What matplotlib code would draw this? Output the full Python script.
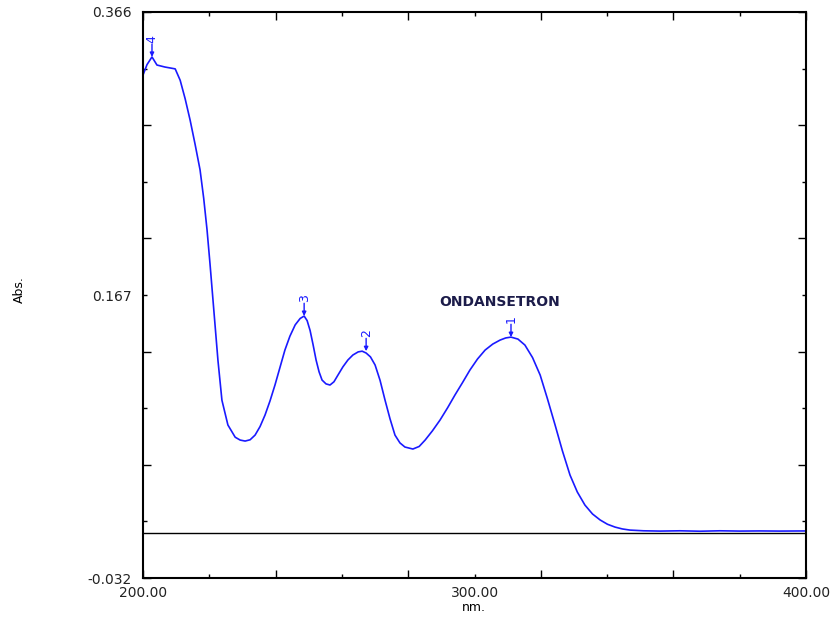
import matplotlib
matplotlib.use("Agg")
import matplotlib.pyplot as plt

# spectrum (wavelength nm, absorbance)
wavelength = [200.0, 201.2, 202.7, 204.2, 206.6, 209.7, 211.2, 212.7, 214.2, 215.7, 217.2,
              218.3, 219.3, 220.2, 221.1, 222.6, 223.8, 225.6, 227.8, 229.3, 230.8, 232.3,
              233.8, 235.3, 236.8, 238.3, 239.8, 241.3, 242.8, 244.3, 245.9, 247.4, 248.6,
              249.5, 250.4, 251.3, 252.2, 253.1, 254.0, 255.2, 256.4, 257.6, 258.8, 260.3,
              261.8, 263.3, 264.9, 266.1, 267.3, 268.6, 270.0, 271.5, 273.0, 274.5, 276.0,
              277.5, 279.0, 281.4, 283.3, 285.1, 287.3, 289.6, 291.9, 294.1, 296.4, 298.6,
              300.9, 303.2, 305.5, 307.7, 309.4, 311.0, 313.1, 315.2, 317.5, 319.8, 322.0,
              324.3, 326.5, 328.8, 331.0, 333.3, 335.6, 337.9, 340.1, 342.4, 344.6, 346.9,
              351.0, 356.0, 362.0, 368.0, 374.0, 380.0, 386.0, 392.0, 400.0]
absorbance = [0.3217, 0.3290, 0.3344, 0.3287, 0.3273, 0.3260, 0.3180, 0.3050, 0.2900, 0.2730, 0.2550,
              0.2350, 0.2130, 0.1890, 0.1635, 0.1210, 0.0930, 0.0756, 0.0670, 0.0650, 0.0643, 0.0652,
              0.0685, 0.0745, 0.0826, 0.0925, 0.1037, 0.1160, 0.1283, 0.1380, 0.1460, 0.1505, 0.1522,
              0.1490, 0.1420, 0.1320, 0.1213, 0.1130, 0.1072, 0.1045, 0.1037, 0.1060, 0.1107, 0.1165,
              0.1213, 0.1248, 0.1270, 0.1275, 0.1262, 0.1235, 0.1178, 0.1070, 0.0931, 0.0800, 0.0685,
              0.0630, 0.0601, 0.0587, 0.0605, 0.0650, 0.0715, 0.0791, 0.0878, 0.0967, 0.1055, 0.1142,
              0.1220, 0.1283, 0.1325, 0.1353, 0.1368, 0.1374, 0.1360, 0.1318, 0.1230, 0.1107, 0.0940,
              0.0756, 0.0575, 0.0404, 0.0285, 0.0193, 0.0130, 0.0088, 0.0058, 0.0038, 0.0025, 0.0017,
              0.0012, 0.0010, 0.0012, 0.0009, 0.0012, 0.0010, 0.0011, 0.0010, 0.0011]

# labelled peaks: number, wavelength, absorbance
peak_ids = ["4", "3", "2", "1"]
peak_x = [202.7, 248.6, 267.3, 311.0]
peak_y = [0.3344, 0.1522, 0.1275, 0.1374]

y_min, y_max = -0.032, 0.366
y_step = (y_max - y_min) / 10

fig = plt.figure(figsize=(8.35, 6.18), dpi=100)
ax = fig.add_axes([0.1713, 0.0647, 0.794, 0.9159])

ax.plot(wavelength, absorbance, color="#1a1aff", linewidth=1.2)
ax.axhline(0.0, color="black", linewidth=1.0)

for pid, px, py in zip(peak_ids, peak_x, peak_y):
    ax.annotate("", xy=(px, py), xytext=(px, py + 0.009),
                arrowprops=dict(arrowstyle="-|>", color="#1a1aff", lw=1.0,
                                mutation_scale=6, shrinkA=0, shrinkB=0))
    ax.text(px, py + 0.010, pid, rotation=90, ha="center", va="bottom",
            color="#1a1aff", fontsize=9)

ax.text(307.7, 0.162, "ONDANSETRON", ha="center", va="center",
        color="#1c1c4a", fontsize=10, fontweight="bold")

ax.set_xlim(200, 400)
ax.set_ylim(y_min, y_max)

major_y = [y_min + k * y_step for k in range(0, 11, 2)]
minor_y = [y_min + k * y_step for k in range(1, 10, 2)]
ax.set_yticks(major_y, labels=["-0.032", "", "", "", "", "0.366"])
ax.set_yticks(minor_y, labels=["", "", "0.167", "", ""], minor=True)
ax.set_xticks([200, 240, 280, 320, 360, 400],
              labels=["200.00", "", "", "", "", "400.00"])
ax.set_xticks([220, 260, 300, 340, 380],
              labels=["", "", "300.00", "", ""], minor=True)

ax.tick_params(which="both", direction="in", top=True, right=True,
               labelsize=10, colors="black", labelcolor="#222222")
ax.tick_params(which="major", length=6, width=1.0)
ax.tick_params(which="minor", length=3, width=1.0)
ax.tick_params(axis="y", which="both", pad=8)
ax.tick_params(axis="x", which="both", pad=6)

for sp in ax.spines.values():
    sp.set_linewidth(1.5)

ax.set_xlabel("nm.", fontsize=9)
ax.xaxis.set_label_coords(0.499, -0.040)
ax.set_ylabel("Abs.", fontsize=9)
ax.yaxis.set_label_coords(-0.1765, 0.51)

fig.savefig("out.png", dpi=100)
